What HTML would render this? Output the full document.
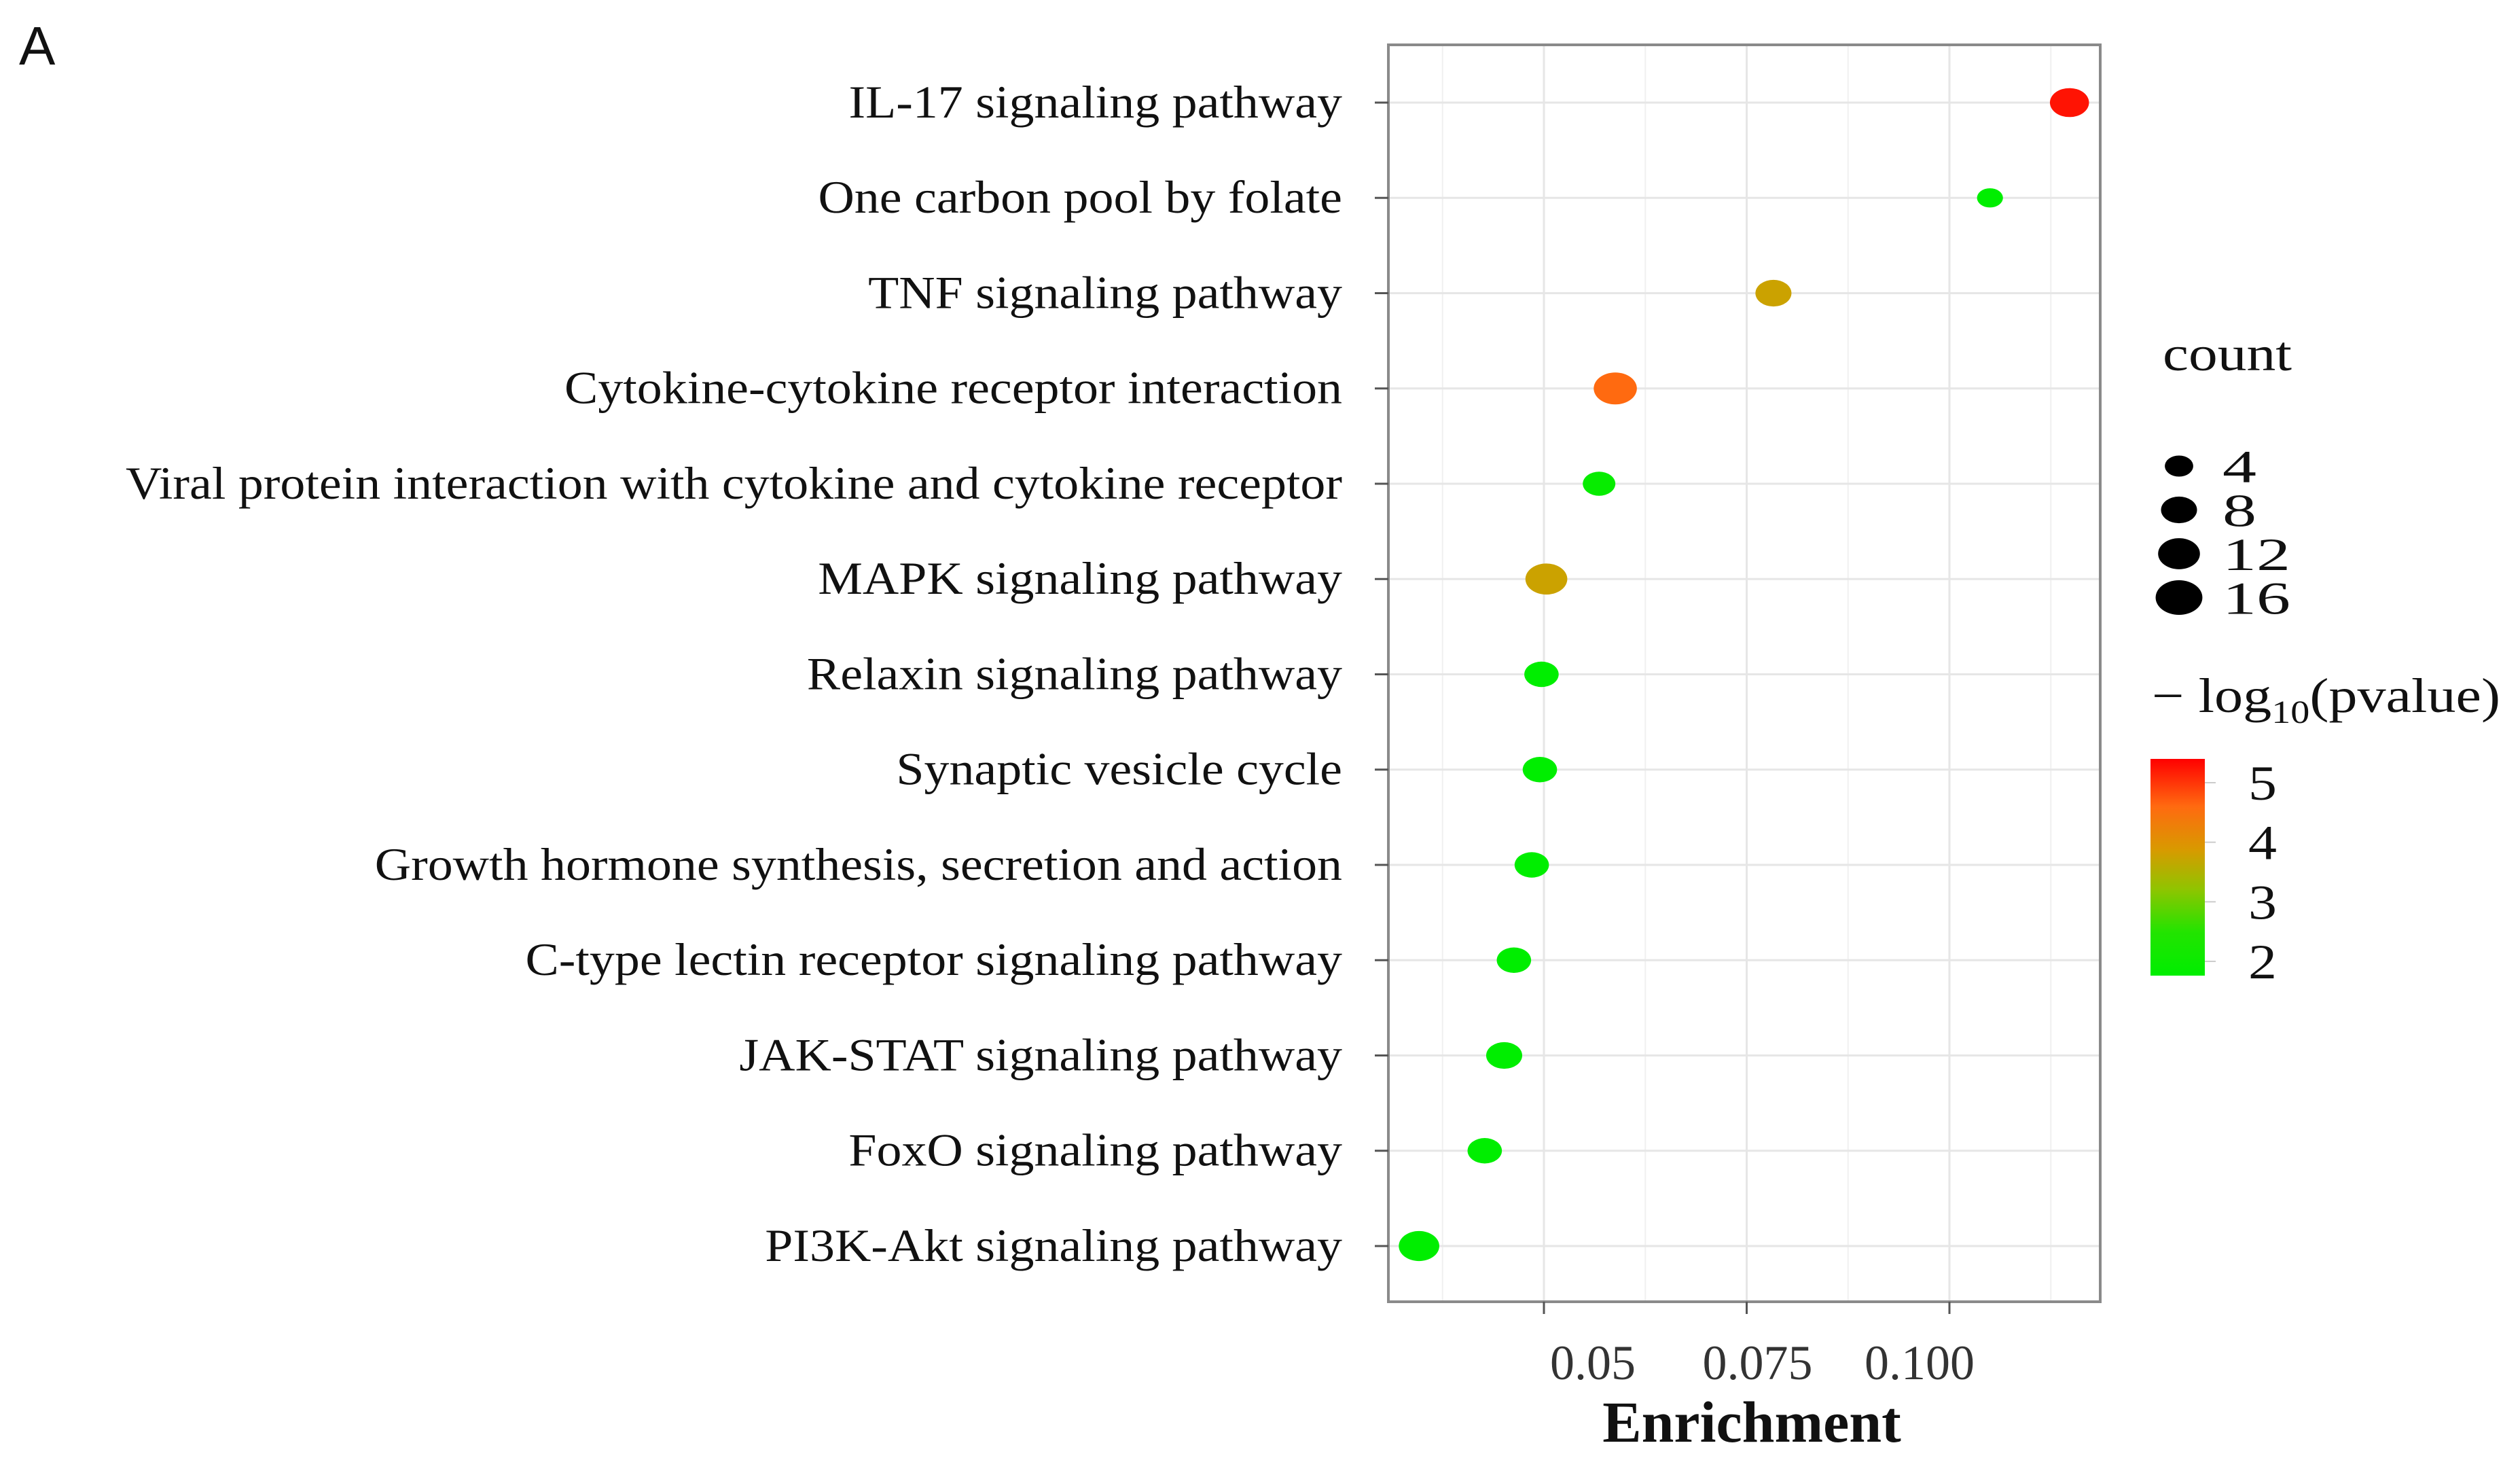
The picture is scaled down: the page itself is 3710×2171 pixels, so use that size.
<!DOCTYPE html>
<html><head><meta charset="utf-8"><style>
html,body{margin:0;padding:0;background:#fff}
svg{display:block}
text{font-family:"Liberation Serif",serif}
</style></head><body>
<svg id="chart" width="3710" height="2171" viewBox="0 0 3710 2171">
<defs>
<linearGradient id="cbar" x1="0" y1="1" x2="0" y2="0">
<stop offset="0" stop-color="#00ee00"/>
<stop offset="0.2" stop-color="#22e400"/>
<stop offset="0.4" stop-color="#90c400"/>
<stop offset="0.58" stop-color="#d89a00"/>
<stop offset="0.78" stop-color="#ff6a10"/>
<stop offset="1" stop-color="#ff0000"/>
</linearGradient>
</defs>
<text x="28" y="95" font-size="80" style="font-family:'Liberation Sans',sans-serif" fill="#111">A</text>
<g id="plot"></g>
</svg>
<script>
const categories=["IL-17 signaling pathway","One carbon pool by folate","TNF signaling pathway","Cytokine-cytokine receptor interaction","Viral protein interaction with cytokine and cytokine receptor","MAPK signaling pathway","Relaxin signaling pathway","Synaptic vesicle cycle","Growth hormone synthesis, secretion and action","C-type lectin receptor signaling pathway","JAK-STAT signaling pathway","FoxO signaling pathway","PI3K-Akt signaling pathway"];
const enrichment=[0.1148,0.105,0.0783,0.0588,0.0568,0.0503,0.0497,0.0495,0.0485,0.0463,0.0451,0.0427,0.0346];
const counts=[10,3,8,13,6,12,7,7,7,7,8,7,11];
const logp=[5.2,2.0,3.5,4.3,2.1,3.5,2.0,2.0,2.0,2.0,2.0,2.0,2.0];
const xTicks=[0.05,0.075,0.1];
const xTickLabels=["0.05","0.075","0.100"];
const xMinor=[0.0375,0.0625,0.0875,0.1125];
const sizeBreaks=[4,8,12,16];
const colorBreaks=[2,3,4,5];

const NS="http://www.w3.org/2000/svg";
const g=document.getElementById('plot');
function mk(t,a,p){const e=document.createElementNS(NS,t);for(const k in a)e.setAttribute(k,a[k]);(p||g).appendChild(e);return e;}
const P={l:2044,r:3092,t:66,b:1916};
const x=v=>2273+(v-0.05)/0.025*298.5;
const y=i=>151+i*140.25;
const ry=c=>15.5+(Math.sqrt(c)-2)/2*10;
function col(v){
 const stops=[[2,[0,238,0]],[2.6,[40,228,0]],[3.1,[150,196,0]],[3.6,[216,154,0]],[4.3,[255,106,16]],[5.4,[255,0,0]]];
 if(v<=stops[0][0])return 'rgb('+stops[0][1]+')';
 for(let i=1;i<stops.length;i++){if(v<=stops[i][0]){const a=stops[i-1],b=stops[i],t=(v-a[0])/(b[0]-a[0]);return 'rgb('+a[1].map((c,j)=>Math.round(c+(b[1][j]-c)*t)).join(',')+')';}}
 return 'rgb(255,0,0)';
}
xMinor.forEach(v=>{const l=mk('line',{x1:x(v),x2:x(v),y1:P.t,y2:P.b,stroke:'#f0f0f0','stroke-width':2});
});
xTicks.forEach(v=>{const l=mk('line',{x1:x(v),x2:x(v),y1:P.t,y2:P.b,stroke:'#e6e6e6','stroke-width':3});
});
categories.forEach((c,i)=>{const l=mk('line',{x1:P.l,x2:P.r,y1:y(i),y2:y(i),stroke:'#e6e6e6','stroke-width':3});
});
const fr=mk('rect',{x:P.l,y:P.t,width:P.r-P.l,height:P.b-P.t,fill:'none',stroke:'#8a8a8a','stroke-width':4});

const yl=mk('g',{transform:'translate(1976,0) scale(1.087,1) translate(-1976,0)'});

categories.forEach((c,i)=>{
 const tk=mk('line',{x1:P.l-20,x2:P.l,y1:y(i),y2:y(i),stroke:'#555','stroke-width':3});
 
 const t=mk('text',{x:1976,y:y(i)+22,'text-anchor':'end','font-size':68,fill:'#111'},yl);t.textContent=c;
 
});
const offs=[72,16,-44];
xTicks.forEach((v,i)=>{
 const tk=mk('line',{x1:x(v),x2:x(v),y1:P.b,y2:P.b+18,stroke:'#555','stroke-width':3});
 
 const t=mk('text',{x:x(v)+offs[i],y:2030,'text-anchor':'middle','font-size':72,fill:'#333'});t.textContent=xTickLabels[i];
 
});
const xt=mk('text',{x:2579,y:2122,'text-anchor':'middle','font-size':86,'font-weight':'bold',fill:'#111'});xt.textContent='Enrichment';

categories.forEach((c,i)=>{
 const r=ry(counts[i]);
 const d=mk('ellipse',{cx:x(enrichment[i]),cy:y(i),rx:r*1.35,ry:r,fill:col(logp[i])});
 
});
const st=mk('text',{x:3184,y:545,'font-size':72,fill:'#111',textLength:190,lengthAdjust:'spacingAndGlyphs'});st.textContent='count';

sizeBreaks.forEach((c,i)=>{
 const yy=686+i*64.5;const r=ry(c);
 const d=mk('ellipse',{cx:3208,cy:yy,rx:r*1.35,ry:r,fill:'#000'});
 
 const t=mk('text',{x:3272,y:yy+24,'font-size':68,fill:'#111',textLength:String(c).length*50,lengthAdjust:'spacingAndGlyphs'});t.textContent=c;
 
});
const ct=mk('text',{x:3168,y:1048,'font-size':72,fill:'#111',textLength:513,lengthAdjust:'spacingAndGlyphs'});
ct.innerHTML='− log<tspan font-size="48" dy="16">10</tspan><tspan dy="-16">(pvalue)</tspan>';

const cb=mk('rect',{x:3166,y:1117,width:80,height:319,fill:'url(#cbar)'});

const cy=v=>1415-(v-2)/3*(1415-1152);
colorBreaks.forEach(v=>{
 const l=mk('line',{x1:3246,x2:3262,y1:cy(v),y2:cy(v),stroke:'#ccc','stroke-width':2});
 
 const t=mk('text',{x:3331,y:cy(v)+25,'text-anchor':'middle','font-size':72,fill:'#111',textLength:42,lengthAdjust:'spacingAndGlyphs'});t.textContent=v;
 
});
</script>
</body></html>
